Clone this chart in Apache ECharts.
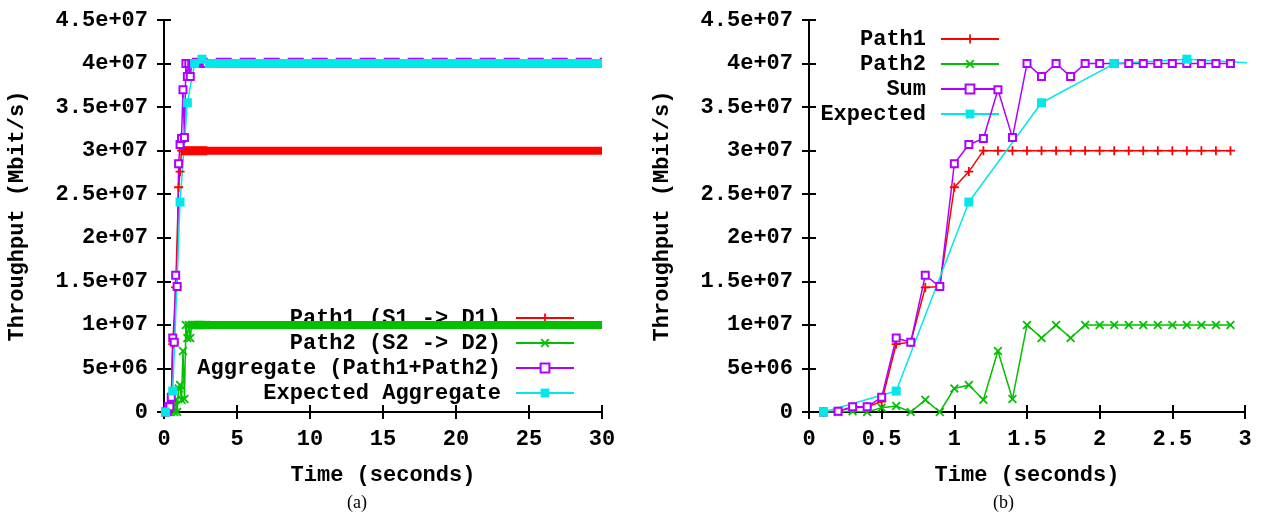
<!DOCTYPE html>
<html>
<head>
<meta charset="utf-8">
<title>Throughput</title>
<script src="https://cdn.jsdelivr.net/npm/echarts@6/dist/echarts.min.js"></script>
<style>
  html, body { margin: 0; padding: 0; background: #fff; }
  #chart { width: 1263px; height: 518px; }
</style>
</head>
<body>
<div id="chart"></div>
<script>
// ---- Data (throughput in bit/s, time in seconds) ----
const sampleTime = [0.1, 0.2, 0.3, 0.4, 0.5, 0.6, 0.7, 0.8, 0.9, 1.0,
                    1.1, 1.2, 1.3, 1.4, 1.5, 1.6, 1.7, 1.8, 1.9, 2.0,
                    2.1, 2.2, 2.3, 2.4, 2.5, 2.6, 2.7, 2.8, 2.9];
const path1 = [0, 0.1e6, 0.5e6, 0.6e6, 1.2e6, 7.8e6, 8.0e6, 14.3e6, 14.4e6, 25.8e6,
               27.6e6, 30e6, 30e6, 30e6, 30e6, 30e6, 30e6, 30e6, 30e6, 30e6,
               30e6, 30e6, 30e6, 30e6, 30e6, 30e6, 30e6, 30e6, 30e6];
const path2 = [0, 0, 0.1e6, 0, 0.5e6, 0.7e6, 0, 1.4e6, 0, 2.7e6,
               3.1e6, 1.4e6, 7.0e6, 1.5e6, 10e6, 8.5e6, 10e6, 8.5e6, 10e6, 10e6,
               10e6, 10e6, 10e6, 10e6, 10e6, 10e6, 10e6, 10e6, 10e6];
const sumPaths = [0, 0.1e6, 0.6e6, 0.6e6, 1.7e6, 8.5e6, 8.0e6, 15.7e6, 14.4e6, 28.5e6,
                  30.7e6, 31.4e6, 37.0e6, 31.5e6, 40e6, 38.5e6, 40e6, 38.5e6, 40e6, 40e6,
                  40e6, 40e6, 40e6, 40e6, 40e6, 40e6, 40e6, 40e6, 40e6];
const expectedTime = [0.1, 0.6, 1.1, 1.6, 2.1, 2.6, 3.1];
const expected = [0, 2.4e6, 24.1e6, 35.5e6, 40e6, 40.5e6, 40e6];

// Long run (30 s): steady-state levels and the time each one is reached
const runEnd = 30;
const steadyPath1 = { from: 1.2, value: 30e6 };
const steadyPath2 = { from: 1.9, value: 10e6 };
const steadySum = { from: 1.9, value: 40.5e6 };
const steadyExpected = { from: 2.1, value: 40e6 };

// Tick labels
const yTickLabels = ['0', '5e+06', '1e+07', '1.5e+07', '2e+07', '2.5e+07',
                     '3e+07', '3.5e+07', '4e+07', '4.5e+07'];
const xTickLabelsRun = ['0', '5', '10', '15', '20', '25', '30'];
const xTickLabelsZoom = ['0', '0.5', '1', '1.5', '2', '2.5', '3'];

// Series names
const namesRun = ['Path1 (S1 -> D1)', 'Path2 (S2 -> D2)', 'Aggregate (Path1+Path2)', 'Expected Aggregate'];
const namesZoom = ['Path1', 'Path2', 'Sum', 'Expected'];

// ---- Styling ----
const FONT = 'Liberation Mono';
const FSIZE = 22;
const C_RED = '#ff0000', C_GREEN = '#00c000', C_PURPLE = '#b000ff', C_CYAN = '#00e8e8';
const plusSym = 'path://M4,0H6V4H10V6H6V10H4V6H0V4H4Z';
const crossSym = 'path://M0,1.4L1.4,0L5,3.6L8.6,0L10,1.4L6.4,5L10,8.6L8.6,10L5,6.4L1.4,10L0,8.6L3.6,5Z';

const pairs = (xs, ys) => xs.map((x, i) => [x, ys[i]]);
const steadyLine = (s) => [[s.from, s.value], [runEnd, s.value]];

const gridsPx = [
  { left: 164, top: 20, width: 438, height: 392 },
  { left: 809, top: 20, width: 436, height: 392 }
];

const axisLineStyle = { color: '#000', width: 2 };
const tickStyle = { show: true, inside: true, length: 7, lineStyle: { color: '#000', width: 2 } };
const labelText = { fontFamily: FONT, fontWeight: 'bold', fontSize: FSIZE, color: '#000' };

function xAxes(gi, max, interval, labels) {
  return [
    {
      type: 'value', gridIndex: gi, position: 'bottom', min: 0, max, interval,
      axisLine: { show: true, lineStyle: axisLineStyle },
      axisTick: tickStyle, splitLine: { show: false },
      axisLabel: Object.assign({ margin: 16, formatter: (v) => labels[Math.round(v / interval)] }, labelText),
      name: 'Time (seconds)', nameLocation: 'middle', nameGap: 52,
      nameTextStyle: labelText
    },
    {
      type: 'value', gridIndex: gi, position: 'top', min: 0, max, interval,
      axisLine: { show: true, lineStyle: axisLineStyle },
      axisTick: tickStyle, splitLine: { show: false }, axisLabel: { show: false }
    }
  ];
}
function yAxes(gi) {
  return [
    {
      type: 'value', gridIndex: gi, position: 'left', min: 0, max: 4.5e7, interval: 5e6,
      axisLine: { show: true, lineStyle: axisLineStyle },
      axisTick: tickStyle, splitLine: { show: false },
      axisLabel: Object.assign({ margin: 16, formatter: (v) => yTickLabels[Math.round(v / 5e6)] }, labelText),
      name: 'Throughput (Mbit/s)', nameLocation: 'middle', nameGap: 136, nameRotate: 90,
      nameTextStyle: labelText
    },
    {
      type: 'value', gridIndex: gi, position: 'right', min: 0, max: 4.5e7, interval: 5e6,
      axisLine: { show: true, lineStyle: axisLineStyle },
      axisTick: tickStyle, splitLine: { show: false }, axisLabel: { show: false }
    }
  ];
}

function markSeries(name, ax, data, color, symbol, size, extra) {
  return Object.assign({
    type: 'line', name, xAxisIndex: ax.x, yAxisIndex: ax.y, data,
    symbol, symbolSize: size, showSymbol: true,
    lineStyle: { color, width: 1.5 }, itemStyle: { color, borderWidth: 1.5 },
    emphasis: { disabled: true }, silent: true, z: 3
  }, extra || {});
}
function bandSeries(name, ax, data, color, width, dashed) {
  return {
    type: 'line', name, xAxisIndex: ax.x, yAxisIndex: ax.y, data,
    symbol: 'none', lineStyle: { color, width, type: dashed ? [16, 8] : 'solid', cap: 'butt' },
    itemStyle: { color }, emphasis: { disabled: true }, silent: true, z: 3
  };
}

const axRun = { x: 0, y: 0 };
const axZoom = { x: 2, y: 2 };

const series = [
  // (a) full 30 s run
  markSeries(namesRun[0], axRun, pairs(sampleTime, path1), C_RED, plusSym, 9),
  bandSeries(namesRun[0], axRun, steadyLine(steadyPath1), C_RED, 8),
  markSeries(namesRun[1], axRun, pairs(sampleTime, path2), C_GREEN, crossSym, 9),
  bandSeries(namesRun[1], axRun, steadyLine(steadyPath2), C_GREEN, 8),
  markSeries(namesRun[2], axRun, pairs(sampleTime, sumPaths), C_PURPLE, 'emptyRect', 7),
  bandSeries(namesRun[2], axRun, steadyLine(steadySum), C_PURPLE, 3, true),
  markSeries(namesRun[3], axRun, pairs(expectedTime, expected), C_CYAN, 'rect', 9),
  bandSeries(namesRun[3], axRun, steadyLine(steadyExpected), C_CYAN, 9),
  // (b) first 3 s
  markSeries(namesZoom[0], axZoom, pairs(sampleTime, path1), C_RED, plusSym, 9),
  markSeries(namesZoom[1], axZoom, pairs(sampleTime, path2), C_GREEN, crossSym, 9),
  markSeries(namesZoom[2], axZoom, pairs(sampleTime, sumPaths), C_PURPLE, 'emptyRect', 7),
  markSeries(namesZoom[3], axZoom, pairs(expectedTime, expected), C_CYAN, 'rect', 9)
];

// One legend per entry so the sample lines line up on the right
function legendEntry(name, rightPx, centerY) {
  return {
    data: [name], orient: 'vertical', align: 'right', right: rightPx, top: centerY - 10,
    padding: 0, itemWidth: 58, itemHeight: 11, z: 1, selectedMode: false,
    textStyle: Object.assign({ lineHeight: 20, padding: [0, 10, 0, 0] }, labelText)
  };
}
const legends = [];
namesRun.forEach((n, i) => legends.push(legendEntry(n, 1263 - 575, 317 + i * 25)));
namesZoom.forEach((n, i) => legends.push(legendEntry(n, 1263 - 1000, 38 + i * 25)));

const chart = echarts.init(document.getElementById('chart'), null, { renderer: 'canvas' });
chart.setOption({
  backgroundColor: '#fff',
  animation: false,
  grid: gridsPx,
  xAxis: [...xAxes(0, 30, 5, xTickLabelsRun), ...xAxes(1, 3, 0.5, xTickLabelsZoom)],
  yAxis: [...yAxes(0), ...yAxes(1)],
  legend: legends,
  series,
  graphic: [
    { type: 'text', left: 347, top: 494, style: { text: '(a)', font: '18px "Liberation Serif"', fill: '#000' } },
    { type: 'text', left: 993, top: 494, style: { text: '(b)', font: '18px "Liberation Serif"', fill: '#000' } }
  ]
});
</script>
</body>
</html>
